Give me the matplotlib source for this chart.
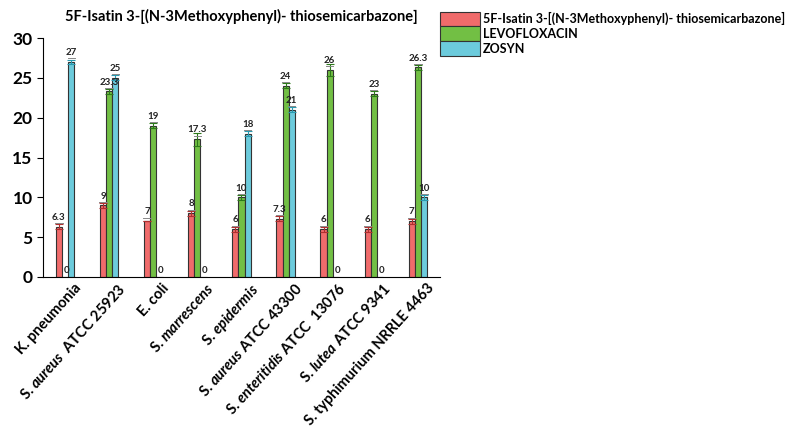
import matplotlib
matplotlib.use('Agg')
import matplotlib.pyplot as plt
from matplotlib.transforms import ScaledTranslation
import numpy as np

plt.rcParams['font.family'] = ['Lato', 'DejaVu Sans']
plt.rcParams['font.weight'] = 'bold'
plt.rcParams['mathtext.fontset'] = 'custom'
plt.rcParams['mathtext.rm'] = 'Lato:bold'
plt.rcParams['mathtext.it'] = 'Lato:italic:bold'

# Dados
strains = [
    'K. pneumonia',
    r'S. $\it{aureus}$  ATCC 25923',
    'E. coli',
    r'S. $\it{marrescens}$',
    r'S. $\it{epidermis}$',
    r'S. $\it{aureus}$ ATCC 43300',
    r'S. $\it{enteritidis}$ ATCC  13076',
    r'S. $\it{lutea}$ ATCC 9341',
    'S. typhimurium NRRLE 4463',
]
series_names = ['5F-Isatin 3-[(N-3Methoxyphenyl)- thiosemicarbazone]',
                'LEVOFLOXACIN', 'ZOSYN']
isatin = [6.3, 9, 7, 8, 6, 7.3, 6, 6, 7]
levo = [0, 23.3, 19, 17.3, 10, 24, 26, 23, 26.3]
zosyn = [27, 25, 0, 0, 18, 21, 0, 0, 10]
isatin_err = [0.3, 0.3, 0, 0.3, 0.3, 0.3, 0.3, 0.3, 0.3]
levo_err = [0, 0.3, 0.3, 0.8, 0.3, 0.3, 0.8, 0.3, 0.3]
zosyn_err = [0.3, 0.3, 0, 0, 0.3, 0.3, 0, 0, 0.3]

colors = ['#f06b6b', '#72bf44', '#6ccbdc']
err_colors = ['#b03030', '#2d7a1a', '#2a9ab0']

fig = plt.figure(figsize=(7.97, 4.38), dpi=100)
ax = fig.add_axes([0.054, 0.3676, 0.498, 0.5456])

x = np.arange(len(strains))
w = 0.14
all_vals = [isatin, levo, zosyn]
all_errs = [isatin_err, levo_err, zosyn_err]
handles = []
for i, (vals, errs) in enumerate(zip(all_vals, all_errs)):
    pos = x + (i - 1) * w
    b = ax.bar(pos, vals, w, color=colors[i], edgecolor='#333333', linewidth=0.8)
    handles.append(b)
    for p, v, e in zip(pos, vals, errs):
        if v > 0:
            ax.errorbar(p, v, yerr=e, color=err_colors[i], capsize=3,
                        elinewidth=0.8, capthick=0.8)
            ax.plot([p - w * 0.6, p + w * 0.6], [v + 0.45, v + 0.45],
                    color='#888888', lw=0.7)
            ax.text(p, v + 0.6, f'{v:g}', ha='center', va='bottom',
                    fontsize=7, fontweight='bold', color='#222222')
        else:
            ax.text(p + 0.03, 0.3, '0', ha='center', va='bottom',
                    fontsize=7, fontweight='bold', color='#222222')

ax.set_xlim(-0.5, 8.5)
ax.set_ylim(0, 30)
ax.set_yticks([0, 5, 10, 15, 20, 25, 30])
ax.tick_params(axis='y', labelsize=12.5, length=4, direction='out')
ax.tick_params(axis='x', length=0, labelsize=10.5, pad=3)
ax.set_xticks(x)
ax.set_xticklabels(strains, rotation=48, ha='right', rotation_mode='anchor')
shift = ScaledTranslation(6 / 72, 0, fig.dpi_scale_trans)
for lab in ax.get_xticklabels():
    lab.set_fontweight('bold')
    lab.set_transform(lab.get_transform() + shift)
for lab in ax.get_yticklabels():
    lab.set_fontweight('bold')
ax.spines['top'].set_visible(False)
ax.spines['right'].set_visible(False)
ax.set_title(series_names[0], fontsize=10.5, fontweight='bold', pad=12)

fig.legend(handles, series_names, loc='upper left',
           bbox_to_anchor=(0.546, 0.985), frameon=False,
           handlelength=3.2, handleheight=1.45, labelspacing=0.0,
           handletextpad=0.2, borderaxespad=0, prop={'weight': 'bold', 'size': 9.0})

fig.savefig('out.png', dpi=100)
